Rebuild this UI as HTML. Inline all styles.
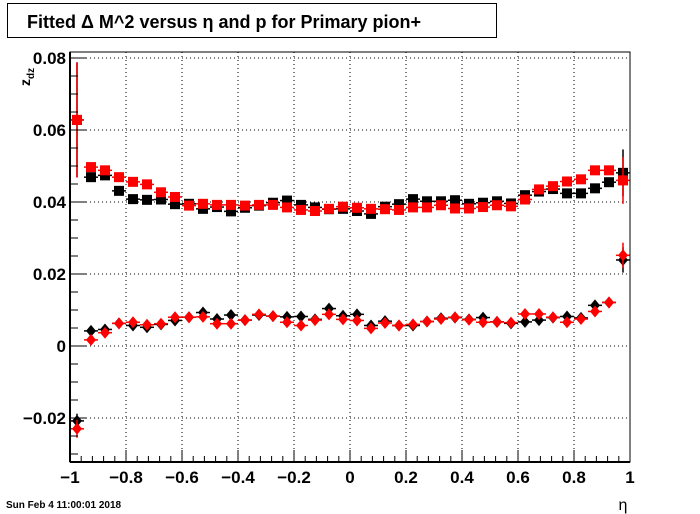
<!DOCTYPE html>
<html><head><meta charset="utf-8"><style>
body{margin:0;background:#fff;}
svg{display:block;font-family:"Liberation Sans",Arial,sans-serif;}
</style></head><body>
<svg id="c" width="700" height="514" xmlns="http://www.w3.org/2000/svg">
<rect x="0" y="0" width="700" height="514" fill="#fff"/>
<g>
<rect x="7.5" y="3.5" width="489" height="34" fill="#fff" stroke="#000"/>
<text x="27" y="28" font-size="18" font-weight="bold">Fitted Δ M^2 versus η and p for Primary pion+</text>
</g>
<g id="grid"></g>
<g id="marks"></g>
<g id="axes"></g>
<text x="30" y="86" font-size="14" font-weight="bold" transform="rotate(-90 30 86)">z<tspan font-size="10" dy="4">dz</tspan></text>
<text x="623" y="510" font-size="16" text-anchor="middle">η</text>
<text x="6" y="508" font-size="10" font-weight="bold">Sun Feb  4 11:00:01 2018</text>
</svg>
<script>
const etaCenters = [-0.975,-0.925,-0.875,-0.825,-0.775,-0.725,-0.675,-0.625,-0.575,-0.525,-0.475,-0.425,-0.375,-0.325,-0.275,-0.225,-0.175,-0.125,-0.075,-0.025,0.025,0.075,0.125,0.175,0.225,0.275,0.325,0.375,0.425,0.475,0.525,0.575,0.625,0.675,0.725,0.775,0.825,0.875,0.925,0.975];
const blackSq = [0.0628,0.0469,0.0474,0.0431,0.0408,0.0406,0.0407,0.0394,0.0395,0.0381,0.0386,0.0374,0.0384,0.039,0.0398,0.0404,0.0392,0.0385,0.038,0.0381,0.0375,0.0367,0.0387,0.0394,0.0408,0.0402,0.0402,0.0405,0.0395,0.0398,0.0402,0.0396,0.0419,0.0429,0.0436,0.0424,0.0424,0.0438,0.0455,0.0481];
const redSq = [0.0628,0.0497,0.0488,0.0469,0.0456,0.0449,0.0427,0.0414,0.039,0.0395,0.0392,0.0392,0.039,0.0392,0.0392,0.0385,0.0378,0.0375,0.0381,0.0387,0.0384,0.0381,0.038,0.0378,0.0385,0.0385,0.0391,0.0382,0.0382,0.0386,0.0391,0.0388,0.0407,0.0435,0.0444,0.0457,0.0463,0.0488,0.0488,0.046];
const blackDm = [-0.0208,0.0042,0.0046,0.0063,0.0057,0.0052,0.006,0.0071,0.008,0.0093,0.0075,0.0086,0.0072,0.0086,0.0083,0.0081,0.0082,0.0074,0.0104,0.0084,0.0088,0.0057,0.0069,0.0057,0.0057,0.0068,0.0077,0.0079,0.0074,0.0079,0.0067,0.0063,0.0067,0.0072,0.0079,0.0082,0.0078,0.0113,0.0121,0.0239];
const redDm = [-0.023,0.0017,0.0037,0.0063,0.0066,0.0059,0.0062,0.008,0.008,0.0081,0.0062,0.0062,0.0072,0.0088,0.0083,0.0066,0.0057,0.0072,0.0088,0.0074,0.0071,0.0049,0.0064,0.0057,0.006,0.0068,0.0075,0.008,0.0073,0.0066,0.0067,0.0065,0.0089,0.0089,0.008,0.0066,0.0075,0.0096,0.0121,0.0252];
const blackSqErr = [0.016,0.0006,0.0005,0.0004,0.0003,0.0003,0.0003,0.0003,0.0003,0.0003,0.0003,0.0003,0.0003,0.0003,0.0003,0.0003,0.0003,0.0003,0.0003,0.0003,0.0003,0.0003,0.0003,0.0003,0.0003,0.0003,0.0003,0.0003,0.0003,0.0003,0.0003,0.0003,0.0003,0.0003,0.0003,0.0003,0.0004,0.0005,0.0006,0.0065];
const redSqErr = [0.016,0.0009,0.0006,0.0004,0.0003,0.0003,0.0003,0.0003,0.0003,0.0003,0.0003,0.0003,0.0003,0.0003,0.0003,0.0003,0.0003,0.0003,0.0003,0.0003,0.0003,0.0003,0.0003,0.0003,0.0003,0.0003,0.0003,0.0003,0.0003,0.0003,0.0003,0.0003,0.0003,0.0003,0.0003,0.0003,0.0004,0.0006,0.0007,0.0065];
const blackDmErr = [0.002,0.0005,0.0003,0.0002,0.0002,0.0002,0.0002,0.0002,0.0002,0.0002,0.0002,0.0002,0.0002,0.0002,0.0002,0.0002,0.0002,0.0002,0.0002,0.0002,0.0002,0.0002,0.0002,0.0002,0.0002,0.0002,0.0002,0.0002,0.0002,0.0002,0.0002,0.0002,0.0002,0.0002,0.0002,0.0002,0.0002,0.0003,0.0004,0.0035];
const redDmErr = [0.0025,0.0006,0.0003,0.0002,0.0002,0.0002,0.0002,0.0002,0.0002,0.0002,0.0002,0.0002,0.0002,0.0002,0.0002,0.0002,0.0002,0.0002,0.0002,0.0002,0.0002,0.0002,0.0002,0.0002,0.0002,0.0002,0.0002,0.0002,0.0002,0.0002,0.0002,0.0002,0.0002,0.0002,0.0002,0.0002,0.0002,0.0003,0.0005,0.0035];
const binHalf = 0.025;
const xTicks = [-1,-0.8,-0.6,-0.4,-0.2,0,0.2,0.4,0.6,0.8,1];
const xTickLabels = ["\u22121","\u22120.8","\u22120.6","\u22120.4","\u22120.2","0","0.2","0.4","0.6","0.8","1"];
const yTicks = [-0.02,0,0.02,0.04,0.06,0.08];
const yTickLabels = ["\u22120.02","0","0.02","0.04","0.06","0.08"];

const NS="http://www.w3.org/2000/svg";
const L=70,R=630,T=52,B=462;
const xMin=-1,xMax=1,yMin=-0.03222,yMax=0.08167;
function X(v){return L+(v-xMin)/(xMax-xMin)*(R-L);}
function Y(v){return B-(v-yMin)/(yMax-yMin)*(B-T);}
function mk(tag,attrs,parent){const e=document.createElementNS(NS,tag);for(const k in attrs)e.setAttribute(k,attrs[k]);parent.appendChild(e);return e;}
const grid=document.getElementById('grid'),axes=document.getElementById('axes'),marks=document.getElementById('marks');
xTicks.forEach((t,i)=>{if(i===0||i===xTicks.length-1)return;
 const g=mk('line',{x1:X(t),x2:X(t),y1:T,y2:B,stroke:'#000','stroke-dasharray':'1,3','stroke-width':1},grid);
 
 });
yTicks.forEach(t=>{
 const g=mk('line',{x1:L,x2:R,y1:Y(t),y2:Y(t),stroke:'#000','stroke-dasharray':'1,3','stroke-width':1},grid);
 
 });
function series(vals,errs,color,shape,name){
 const g=mk('g',{},marks);
 
 
 vals.forEach((v,i)=>{
  const cx=X(etaCenters[i]),cy=Y(v);
  mk('line',{x1:X(etaCenters[i]-binHalf),x2:X(etaCenters[i]+binHalf),y1:cy,y2:cy,stroke:color,'stroke-width':1.5},g);
  mk('line',{x1:cx,x2:cx,y1:Y(v-errs[i]),y2:Y(v+errs[i]),stroke:color,'stroke-width':1.5},g);
  let m;
  if(shape==='sq') m=mk('rect',{x:cx-5,y:cy-5,width:10,height:10,fill:color},g);
  else m=mk('polygon',{points:`${cx},${cy-6} ${cx+5},${cy} ${cx},${cy+6} ${cx-5},${cy}`,fill:color},g);
  
  
 });
}
series(blackSq,blackSqErr,'#000','sq','black-squares');
series(redSq,redSqErr,'#f00','sq','red-squares');
series(blackDm,blackDmErr,'#000','dm','black-diamonds');
series(redDm,redDmErr,'#f00','dm','red-diamonds');
mk('rect',{x:L,y:T,width:R-L,height:B-T,fill:'none',stroke:'#000','stroke-width':1},axes);
mk('line',{x1:L,x2:L,y1:T,y2:B,stroke:'#000','stroke-width':2},axes);
mk('line',{x1:L,x2:R,y1:B,y2:B,stroke:'#000','stroke-width':2},axes);
for(let v=-1;v<=1.0001;v+=0.04){
 const major=Math.abs(Math.round(v*5)-v*5)<1e-6;
 mk('line',{x1:X(v),x2:X(v),y1:B,y2:B-(major?12:6),stroke:'#000'},axes);}
xTicks.forEach((t,i)=>{
 const tx=mk('text',{x:X(t),y:B+21,'font-size':17,'font-weight':'bold','text-anchor':'middle'},axes);
 tx.textContent=xTickLabels[i];
 
 });
for(let v=-0.03;v<=0.0801;v+=0.005){
 const major=Math.abs(Math.round(v*50)-v*50)<1e-6;
 mk('line',{x1:L,x2:L+(major?17:8),y1:Y(v),y2:Y(v),stroke:'#000'},axes);}
yTicks.forEach((t,i)=>{
 const tx=mk('text',{x:L-4,y:Y(t)+6,'font-size':17,'font-weight':'bold','text-anchor':'end'},axes);
 tx.textContent=yTickLabels[i];
 
 });
</script>
</body></html>
